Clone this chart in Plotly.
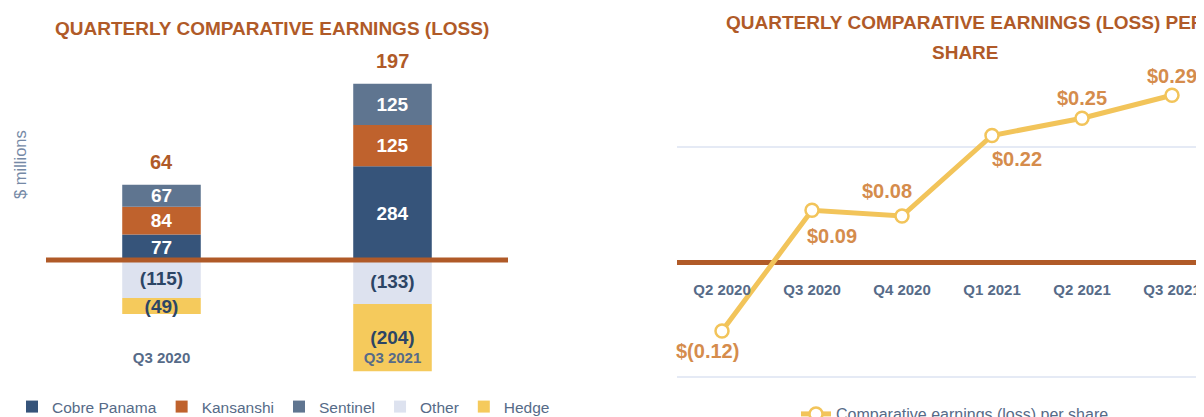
import plotly.graph_objects as go

# the page body has an 8px margin, so the figure is drawn 8px in and down
OFF = 8
W, H = 1204 - OFF, 417 - OFF

# data
quarters = ['Q3 2020', 'Q3 2021']
cobre_panama = [77, 284]
kansanshi = [84, 125]
sentinel = [67, 125]
other = [-115, -133]
hedge = [-49, -204]

eps_quarters = ['Q2 2020', 'Q3 2020', 'Q4 2020', 'Q1 2021', 'Q2 2021', 'Q3 2021']
eps = [-0.12, 0.09, 0.08, 0.22, 0.25, 0.29]

ORANGE = '#b05a28'
SLATE = '#566b88'
NAVY = '#2c4565'
FONT = 'Liberation Sans, Arial, sans-serif'


def fx(px):
    # screen pixel -> paper fraction
    return (px - OFF) / W


def fy(px):
    return 1 - (px - OFF) / H


def seg_text(vals):
    return [f'({abs(v)})' if v < 0 else str(v) for v in vals]


fig = go.Figure()

segments = [
    ('Cobre Panama', cobre_panama, '#36547a', 'white'),
    ('Kansanshi', kansanshi, '#bf622d', 'white'),
    ('Sentinel', sentinel, '#5f7590', 'white'),
    ('Other', other, '#dde2ef', NAVY),
    ('Hedge', hedge, '#f5ca5c', NAVY),
]
for name, vals, color, tcolor in segments:
    fig.add_trace(go.Bar(
        x=quarters, y=vals, name=name,
        marker=dict(color=color, line=dict(width=0)),
        width=0.34,
        text=seg_text(vals), textposition='inside', insidetextanchor='middle',
        constraintext='none', textangle=0,
        textfont=dict(family=FONT, size=19, color=tcolor, weight='bold'),
        xaxis='x', yaxis='y', legend='legend',
    ))

# totals above the stacks
for i, q in enumerate(quarters):
    pos = cobre_panama[i] + kansanshi[i] + sentinel[i]
    total = pos + other[i] + hedge[i]
    fig.add_annotation(x=q, y=pos, xref='x', yref='y', text=f'<b>{total}</b>',
                       showarrow=False, xanchor='center', yanchor='middle', yshift=23,
                       font=dict(family=FONT, size=20, color=ORANGE))

# EPS line
fig.add_trace(go.Scatter(
    x=eps_quarters, y=eps, mode='lines+markers',
    name='Comparative earnings (loss) per share',
    line=dict(color='#f2c45a', width=5),
    marker=dict(size=13, color='white', line=dict(color='#f2c45a', width=2.5)),
    xaxis='x2', yaxis='y2', legend='legend2', cliponaxis=False,
))

label_dx = [-15, 20, -15, 25, 0, 0]
label_dy = [-20, -26, 25, -23, 20, 19]
for q, v, dx, dy in zip(eps_quarters, eps, label_dx, label_dy):
    txt = f'$({abs(v):.2f})' if v < 0 else f'${v:.2f}'
    fig.add_annotation(x=q, y=v, xref='x2', yref='y2', text=f'<b>{txt}</b>',
                       showarrow=False, xanchor='center', yanchor='middle',
                       xshift=dx, yshift=dy,
                       font=dict(family=FONT, size=20, color='#d58c4c'))

# zero line of the bar chart sits on top of the bars
fig.add_shape(type='line', xref='x domain', yref='y', x0=0, x1=1, y0=0, y1=0,
              line=dict(color=ORANGE, width=5), layer='above')

# titles
title_font = dict(family=FONT, size=19, color=ORANGE)
fig.add_annotation(x=fx(272), y=fy(28), xref='paper', yref='paper',
                   text='<b>QUARTERLY COMPARATIVE EARNINGS (LOSS)</b>',
                   showarrow=False, xanchor='center', yanchor='middle', font=title_font)
fig.add_annotation(x=fx(965), y=fy(22), xref='paper', yref='paper',
                   text='<b>QUARTERLY COMPARATIVE EARNINGS (LOSS) PER</b>',
                   showarrow=False, xanchor='center', yanchor='middle', font=title_font)
fig.add_annotation(x=fx(965), y=fy(52), xref='paper', yref='paper',
                   text='<b>SHARE</b>', showarrow=False,
                   xanchor='center', yanchor='middle', font=title_font)
fig.add_annotation(x=fx(20), y=fy(165), xref='paper', yref='paper',
                   text='$ millions', textangle=-90, showarrow=False,
                   xanchor='center', yanchor='middle',
                   font=dict(family=FONT, size=16.5, color='#7589a6'))

tick_font = dict(family=FONT, size=15, color=SLATE, weight='bold')

fig.update_layout(
    width=W, height=H,
    margin=dict(l=0, r=0, t=0, b=0, autoexpand=False),
    paper_bgcolor='white', plot_bgcolor='white',
    barmode='relative',
    font=dict(family=FONT),
    xaxis=dict(domain=[fx(46), fx(508)], range=[-0.5, 1.5], anchor='free',
               position=fy(347), showline=False, ticks='', showgrid=False,
               tickfont=tick_font),
    yaxis=dict(domain=[fy(390), fy(30)],
               range=[(260 - 390) / 0.33, (260 - 30) / 0.33],
               showticklabels=False, showgrid=False, zeroline=False),
    xaxis2=dict(domain=[fx(677), 1], range=[-0.5, -0.5 + (1204 - 677) / 90], anchor='free',
                position=fy(279), showline=False, ticks='', showgrid=False,
                tickfont=tick_font),
    yaxis2=dict(domain=[fy(392), fy(36)], anchor='x2',
                range=[(262 - 392) / 575, (262 - 36) / 575],
                tick0=0, dtick=0.2, showticklabels=False, showgrid=True,
                gridcolor='#e5eaf5', gridwidth=1.5,
                zeroline=True, zerolinecolor=ORANGE, zerolinewidth=5),
    legend=dict(orientation='h', x=fx(12), y=fy(407), xanchor='left', yanchor='middle',
                font=dict(family=FONT, size=15.5, color=SLATE),
                bgcolor='rgba(0,0,0,0)', traceorder='normal'),
    legend2=dict(orientation='h', x=fx(796), y=fy(414), xanchor='left', yanchor='middle',
                 font=dict(family=FONT, size=16, color=SLATE),
                 bgcolor='rgba(0,0,0,0)'),
    showlegend=True,
)

fig.write_html('out.html')
